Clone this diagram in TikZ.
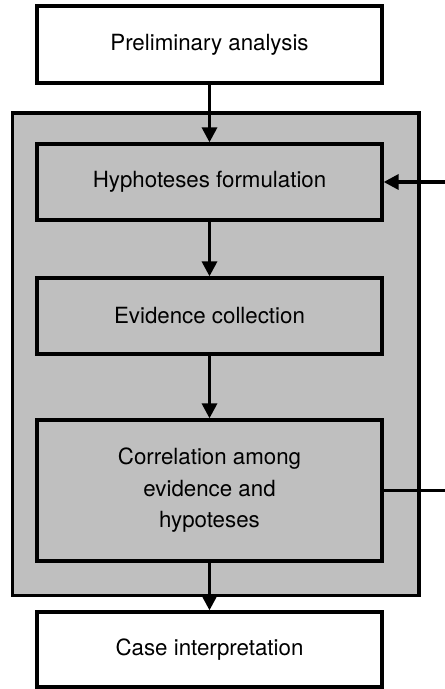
\documentclass[tikz,border=0pt]{standalone}
\usepackage{fontspec}
\setmainfont{TeX Gyre Heros}
\usepackage{xcolor}
\usetikzlibrary{arrows.meta,positioning,calc,backgrounds}
\definecolor{phasegray}{RGB}{191,191,191}
\tikzset{
  stagebox/.style={draw=black,line width=3.3pt,fill=white,align=center,
    minimum width=345pt,minimum height=76pt,font=\fontsize{22.3}{31.5}\selectfont},
  phasebox/.style={stagebox,fill=phasegray},
  phaseframe/.style={draw=black,line width=3.5pt,fill=phasegray},
  flowarrow/.style={-{Triangle[length=15pt,width=15pt]},line width=3.3pt}
}
\begin{document}
\begin{tikzpicture}[x=1pt,y=1pt]
  \clip (0,0) rectangle (445,689);
  \node[stagebox,minimum height=77pt] (prelim) at (209.5,644.5) {Preliminary analysis};
  \node[phasebox,below=57.7pt of prelim] (hypo) {Hyphoteses formulation};
  \node[phasebox,below=54.7pt of hypo] (evid) {Evidence collection};
  \node[phasebox,below=62.7pt of evid,minimum height=141pt] (corr) {Correlation among\\evidence and\\hypoteses};
  \node[stagebox,below=47.7pt of corr,minimum height=75pt] (case) {Case interpretation};
  \begin{scope}[on background layer]
    \draw[phaseframe] ($(hypo.north west)+(-23,29.5)$) rectangle ($(corr.south east)+(35.5,-33)$);
  \end{scope}
  \coordinate (loop) at ($(corr.east)+(80,0)$);
  \draw[flowarrow] (prelim) -- (hypo);
  \draw[flowarrow] (hypo) -- (evid);
  \draw[flowarrow] (evid) -- (corr);
  \draw[flowarrow] (corr) -- (case);
  \draw[flowarrow] (corr.east) -- (loop) |- (hypo.east);
\end{tikzpicture}
\end{document}
